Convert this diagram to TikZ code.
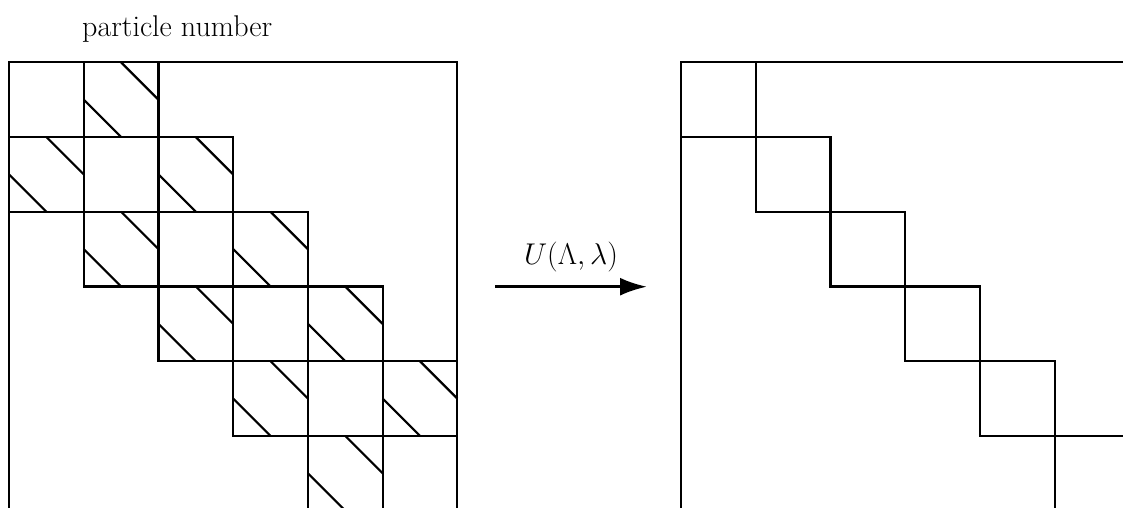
\RequirePackage{fix-cm}
\documentclass[tikz,border=0pt]{standalone}
\usetikzlibrary{arrows.meta}
\tikzset{
  gridline/.style={line width=2.2pt, line cap=rect},
  hatch/.style={line width=2.2pt},
  bigtext/.style={inner sep=0pt, font=\fontsize{30}{36}\selectfont},
  maparrow/.style={line width=2.8pt, -{Latex[length=27pt,width=18pt]}}
}
\begin{document}
\begin{tikzpicture}[x=1pt,y=-1pt]
\useasboundingbox (0,0) rectangle (1123,508);
\clip (0,0) rectangle (1123,508);
\def\cs{74.72}
\def\xo{9}
\def\yo{62.3}
% ---------- left matrix ----------
\begin{scope}[shift={(\xo,\yo)}]
  % outer frame (top, left, right)
  \draw[gridline] (0,6.2*\cs) -- (0,0) -- (6*\cs,0) -- (6*\cs,6.2*\cs);
  % horizontal block lines
  \draw[gridline] (0,1*\cs) -- (3*\cs,1*\cs);
  \draw[gridline] (0,2*\cs) -- (4*\cs,2*\cs);
  \draw[gridline] (1*\cs,3*\cs) -- (5*\cs,3*\cs);
  \draw[gridline] (2*\cs,4*\cs) -- (6*\cs,4*\cs);
  \draw[gridline] (3*\cs,5*\cs) -- (6*\cs,5*\cs);
  % vertical block lines
  \draw[gridline] (1*\cs,0) -- (1*\cs,3*\cs);
  \draw[gridline] (2*\cs,0) -- (2*\cs,4*\cs);
  \draw[gridline] (3*\cs,1*\cs) -- (3*\cs,5*\cs);
  \draw[gridline] (4*\cs,2*\cs) -- (4*\cs,6.2*\cs);
  \draw[gridline] (5*\cs,3*\cs) -- (5*\cs,6.2*\cs);
  % hatching of off-diagonal blocks
  \foreach \r/\c in {0/1,1/0,1/2,2/1,2/3,3/2,3/4,4/3,4/5,5/4}{
    \draw[hatch] ({(\c+0.5)*\cs},{\r*\cs}) -- ({(\c+1)*\cs},{(\r+0.5)*\cs});
    \draw[hatch] ({\c*\cs},{(\r+0.5)*\cs}) -- ({(\c+0.5)*\cs},{(\r+1)*\cs});
  }
\end{scope}
% ---------- right matrix ----------
\begin{scope}[shift={(\xo+672,\yo)}]
  \draw[gridline] (0,6.2*\cs) -- (0,0) -- (6.2*\cs,0);
  \draw[gridline] (0,1*\cs) -- (2*\cs,1*\cs);
  \draw[gridline] (1*\cs,2*\cs) -- (3*\cs,2*\cs);
  \draw[gridline] (2*\cs,3*\cs) -- (4*\cs,3*\cs);
  \draw[gridline] (3*\cs,4*\cs) -- (5*\cs,4*\cs);
  \draw[gridline] (4*\cs,5*\cs) -- (6.2*\cs,5*\cs);
  \draw[gridline] (1*\cs,0) -- (1*\cs,2*\cs);
  \draw[gridline] (2*\cs,1*\cs) -- (2*\cs,3*\cs);
  \draw[gridline] (3*\cs,2*\cs) -- (3*\cs,4*\cs);
  \draw[gridline] (4*\cs,3*\cs) -- (4*\cs,5*\cs);
  \draw[gridline] (5*\cs,4*\cs) -- (5*\cs,6.2*\cs);
\end{scope}
% ---------- labels and arrow ----------
\node[bigtext, anchor=base west] (title) at (82,37) {particle number};
\coordinate (arrA) at (495,286.7);
\coordinate (arrB) at (647,286.7);
\draw[maparrow] (arrA) -- (arrB);
\node[bigtext, anchor=base] (ulabel) at (571,264) {$U(\Lambda,\lambda)$};
\end{tikzpicture}
\end{document}
